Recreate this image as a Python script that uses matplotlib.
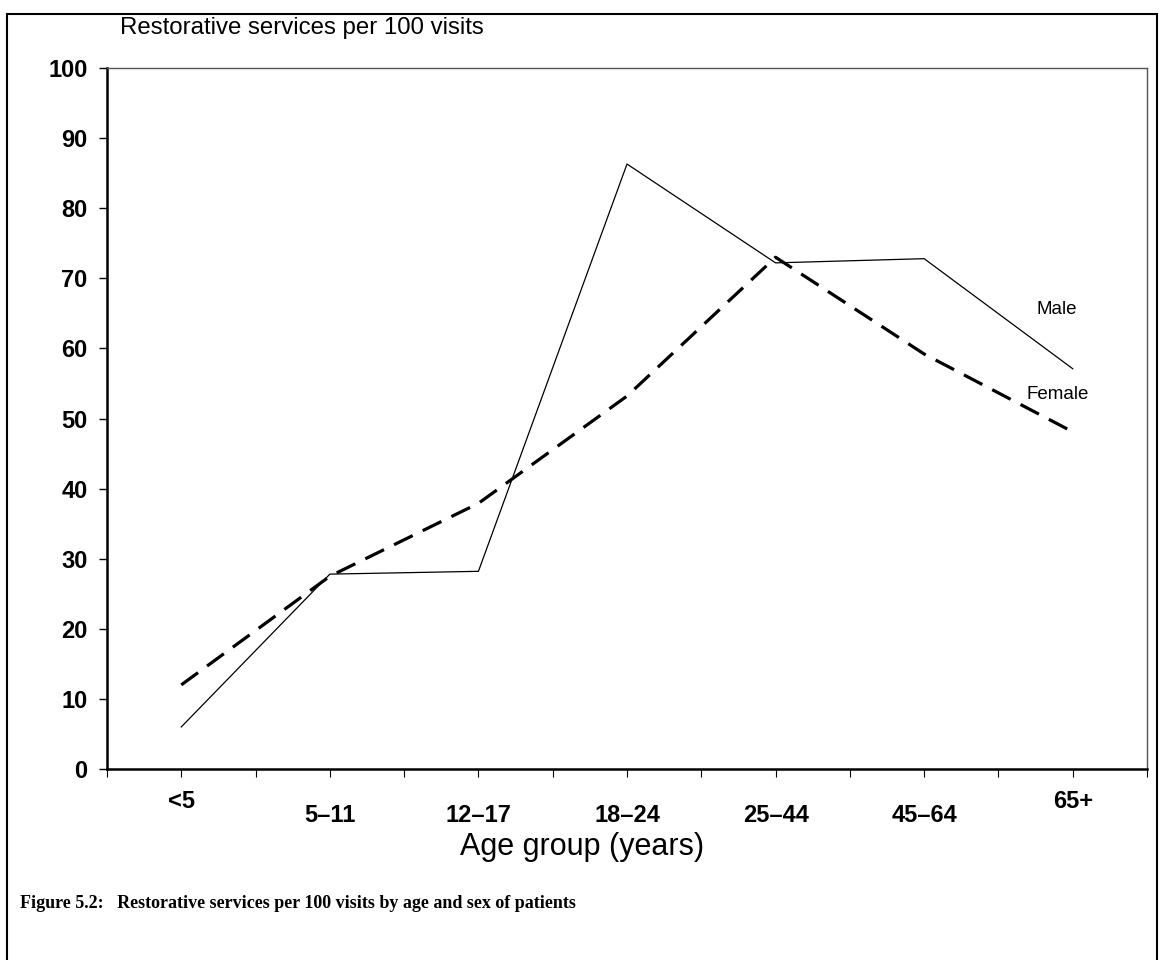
import matplotlib.pyplot as plt
from matplotlib.patches import Rectangle
from matplotlib.transforms import blended_transform_factory

# data
age_groups = ['<5', '5–11', '12–17', '18–24', '25–44', '45–64', '65+']
male = [6.0, 27.8, 28.2, 86.3, 72.2, 72.8, 57.1]
female = [12.0, 27.5, 37.9, 53.2, 73.0, 59.2, 48.1]
raised_labels = ['<5', '65+']

plt.rcParams['font.family'] = ['Liberation Sans', 'DejaVu Sans']

fig = plt.figure(figsize=(11.6, 9.6), dpi=100)
ax = fig.add_axes([107 / 1160, 1 - 769 / 960, 1040 / 1160, 701 / 960])

x = [i + 0.5 for i in range(len(age_groups))]
ax.plot(x, male, color='black', linewidth=0.9)
ax.plot(x, female, color='black', linewidth=2.3, dashes=(6.5, 3.5))

ax.set_xlim(0, len(age_groups))
ax.set_ylim(0, 100)
ax.set_yticks(range(0, 101, 10))
ax.set_xticks([i * 0.5 for i in range(2 * len(age_groups) + 1)])
ax.set_xticklabels([])
ax.tick_params(axis='y', labelsize=17, direction='out', length=6, width=1, pad=8)
ax.tick_params(axis='x', direction='out', length=6, width=0.8)
for lab in ax.get_yticklabels():
    lab.set_fontweight('bold')

for side in ['left', 'bottom']:
    ax.spines[side].set_linewidth(1.8)
for side in ['top', 'right']:
    ax.spines[side].set_linewidth(1.0)
    ax.spines[side].set_color('#555555')

trans = blended_transform_factory(ax.transData, ax.transAxes)
for xi, lab in zip(x, age_groups):
    ybase = -33 / 701 if lab in raised_labels else -47 / 701
    ax.text(xi, ybase, lab, transform=trans,
            ha='center', va='center', fontsize=17, fontweight='bold')

ax.text(6.39, 65.5, 'Male', fontsize=13.5, ha='center', va='center')
ax.text(6.40, 53.4, 'Female', fontsize=13.5, ha='center', va='center')

fig.text(120 / 1160, 1 - 28 / 960, 'Restorative services per 100 visits',
         fontsize=17.3, ha='left', va='center')
fig.text(582 / 1160, 1 - 847 / 960, 'Age group (years)',
         fontsize=22, ha='center', va='center')
fig.text(20 / 1160, 1 - 903 / 960,
         'Figure 5.2:   Restorative services per 100 visits by age and sex of patients',
         fontsize=13, fontweight='bold', family=['Liberation Serif', 'DejaVu Serif'],
         ha='left', va='center')

fig.patches.append(Rectangle((7 / 1160, -0.05), 1150 / 1160, 1 - 14 / 960 + 0.05,
                             transform=fig.transFigure, fill=False,
                             edgecolor='black', linewidth=1.5))

fig.savefig('out.png', dpi=100)
